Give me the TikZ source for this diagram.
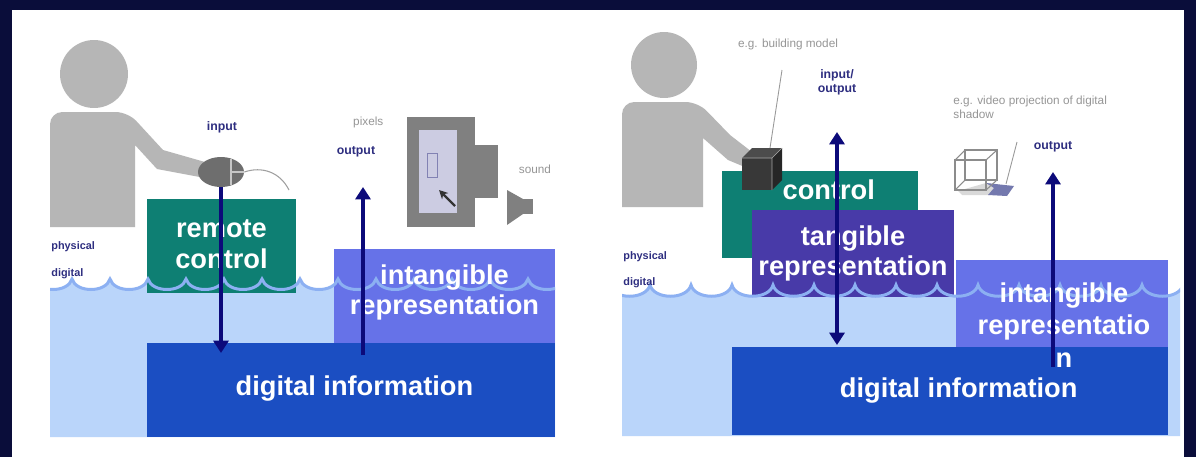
\documentclass[tikz,border=0pt]{standalone}
\usepackage{fontspec}
\setmainfont{Liberation Sans}
\usetikzlibrary{arrows.meta,positioning,shapes.geometric}

\definecolor{darknavy}{RGB}{10,13,58}
\definecolor{persongray}{RGB}{182,182,182}
\definecolor{mousegray}{RGB}{110,110,110}
\definecolor{devgray}{RGB}{128,128,128}
\definecolor{screenlight}{RGB}{204,204,226}
\definecolor{tealbox}{RGB}{14,127,115}
\definecolor{tangpurple}{RGB}{72,58,168}
\definecolor{intangblue}{RGB}{102,114,232}
\definecolor{digiblue}{RGB}{27,78,194}
\definecolor{waterblue}{RGB}{186,213,250}
\definecolor{waveblue}{RGB}{140,176,242}
\definecolor{arrownavy}{RGB}{12,10,122}
\definecolor{labelnavy}{RGB}{46,46,128}
\definecolor{notegray}{RGB}{150,150,150}

\begin{document}
\begin{tikzpicture}[
  x=0.02cm, y=-0.02cm,
  box/.style={rectangle, anchor=north west, inner sep=0pt, outer sep=0pt},
  big/.style={font=\fontsize{15.5}{17.5}\selectfont\bfseries,
    text=white, align=center, inner sep=0pt},
  tag/.style={font=\fontsize{7}{8}\selectfont\bfseries,
    text=labelnavy, align=center, inner sep=0pt},
  side/.style={font=\fontsize{6.2}{7}\selectfont\bfseries,
    text=labelnavy, anchor=west, inner sep=0pt},
  note/.style={font=\fontsize{6.7}{7.6}\selectfont,
    text=notegray, inner sep=0pt},
  flow/.style={draw=arrownavy, line width=2.3pt,
    -{Triangle[width=8.5pt,length=7pt]}},
  surf/.style={draw=waveblue, line width=1.7pt},
  pointer/.style={draw=gray!80, line width=0.5pt},
  wire/.style={draw=gray!90, line width=0.6pt}
]
  %% ── frame ─────────────────────────────────────────────────
  \fill[darknavy] (0,0) rectangle (1196,457);
  \fill[white] (12,10) rectangle (1184,457);

  %% ══ left: remote control ══════════════════════════════════
  %% water below the surface
  \begin{scope}
    \clip (50,250) rectangle (555,437);
    \fill[waterblue] (34,279)
      \foreach \i in {0,...,13} {
        .. controls ({38+38*\i},293) and ({68+38*\i},293) .. ({72+38*\i},279)}
      -- (566,437) -- (34,437) -- cycle;
  \end{scope}

  %% person with the mouse
  \fill[persongray] (94,74) circle[radius=0.68cm];
  \fill[persongray] (50,227) [rounded corners=7pt] -- (50,112) -- (128,112)
    [sharp corners] -- (163,150) -- (205,162) -- (205,178) -- (157,169)
    -- (135,145) -- (135,227) -- cycle;
  \node[ellipse, fill=mousegray, inner sep=0pt,
        minimum width=0.92cm, minimum height=0.6cm] (mouse) at (221,172) {};
  \draw[gray!45, line width=0.6pt] (231,159) -- (231,185) (231,172) -- (244,172);
  \draw[gray!75, line width=0.6pt]
    (mouse.east) .. controls (262,166) and (280,172) .. (289,190);

  %% blocks
  \node[box, fill=tealbox, minimum width=2.98cm, minimum height=1.88cm]
    (remote) at (147,199) {};
  \node[box, fill=intangblue, minimum width=4.42cm, minimum height=1.88cm]
    (intangL) at (334,249) {};
  \node[box, fill=digiblue, minimum width=8.16cm, minimum height=1.88cm]
    (digiL) at (147,343) {};

  %% surface line
  \begin{scope}
    \clip (50,250) rectangle (555,320);
    \draw[surf] (34,279)
      \foreach \i in {0,...,13} {
        .. controls ({38+38*\i},293) and ({68+38*\i},293) .. ({72+38*\i},279)};
  \end{scope}

  \node[big] (remoteTxt) at ([yshift=1pt]remote.center) {remote\\control};
  \node[big] (intangLTxt) at ([yshift=2pt]intangL.center)
    {intangible\\representation};
  \node[big] (digiLTxt) at ([xshift=2pt,yshift=1pt]digiL.center)
    {digital information};

  %% screen and speaker
  \fill[devgray] (407,117) rectangle (475,227);
  \fill[devgray] (475,145) rectangle (498,198);
  \fill[screenlight] (419,130) rectangle (457,213);
  \draw[labelnavy!60, line width=0.5pt] (427,153) rectangle (437,177);
  \draw[black!80, line width=1.3pt, -{Stealth[length=5pt,width=5pt]}]
    (455,206) -- (439,190);
  \fill[devgray] (507,190) -- (523,199) -- (523,214) -- (507,225) -- cycle;
  \fill[devgray] (523,199) rectangle (533,214);

  %% labels
  \node[side] (physL) at (51,247) {physical};
  \node[side] (digL) at (51,274) {digital};
  \node[note] (soundLbl) at (535,169) {sound};

  %% arrows
  \coordinate (inTip) at (221,353);
  \coordinate (outBaseL) at (363,355);
  \coordinate (outTipL) at (363,187);
  \draw[flow] (mouse.south) -- (inTip);
  \draw[flow] (outBaseL) -- (outTipL);
  \node[tag, above=17pt of outTipL, xshift=-4pt] (outLblL) {output};
  \node[note, above=10pt of outLblL, xshift=7pt] (pixLbl) {pixels};
  \node[tag] (inLbl) at (222,127) {input};

  %% ══ right: tangible ═══════════════════════════════════════
  \begin{scope}
    \clip (622,250) rectangle (1180,436);
    \fill[waterblue] (609,285)
      \foreach \i in {0,...,13} {
        .. controls ({613+41*\i},300) and ({646+41*\i},300) .. ({650+41*\i},285)}
      -- (1183,436) -- (609,436) -- cycle;
  \end{scope}

  %% person with the model
  \fill[persongray] (664,65) circle[radius=0.66cm];
  \fill[persongray] (622,207) [rounded corners=7pt] -- (622,102) -- (698,102)
    [sharp corners] -- (730,135) -- (752,152) -- (752,170) -- (728,160)
    -- (703,138) -- (703,207) -- cycle;

  \node[box, fill=tealbox, minimum width=3.92cm, minimum height=1.74cm]
    (ctrl) at (722,171) {};

  %% building model
  \fill[black!78] (742,158) rectangle (772,190);
  \fill[black!70] (742,158) -- (752,148) -- (782,148) -- (772,158) -- cycle;
  \fill[black!85] (772,158) -- (782,148) -- (782,180) -- (772,190) -- cycle;
  \draw[gray!70, line width=0.3pt] (742,158) -- (772,158) -- (782,148)
    (772,158) -- (772,190);

  \node[box, fill=tangpurple, minimum width=4.04cm, minimum height=1.74cm]
    (tang) at (752,210) {};
  \node[box, fill=intangblue, minimum width=4.24cm, minimum height=1.74cm]
    (intangR) at (956,260) {};
  \node[box, fill=digiblue, minimum width=8.72cm, minimum height=1.76cm]
    (digiR) at (732,347) {};

  \begin{scope}
    \clip (622,250) rectangle (1180,320);
    \draw[surf] (609,285)
      \foreach \i in {0,...,13} {
        .. controls ({613+41*\i},300) and ({646+41*\i},300) .. ({650+41*\i},285)};
  \end{scope}

  \node[big, below=5pt of ctrl.north, xshift=5pt] (ctrlTxt) {control};
  \node[big] (tangTxt) at (tang.center) {tangible\\representation};
  \node[big, font=\fontsize{15.5}{18.5}\selectfont\bfseries]
    (intangRTxt) at (1064,325) {intangible\\representatio\\n};
  \node[big] (digiRTxt) at ([xshift=5pt]digiR.center) {digital information};

  %% projected shadow
  \fill[gray!30] (958,191) -- (986,183) -- (1000,185) -- (990,195) -- (962,195) -- cycle;
  \fill[intangblue!45!gray] (986,183) -- (1014,186) -- (1007,196) -- (988,195)
    -- (994,188) -- cycle;
  \draw[wire] (955,160) rectangle (986,190);
  \draw[wire] (965,150) rectangle (997,180);
  \draw[wire] (955,160) -- (965,150) (986,160) -- (997,150)
    (986,190) -- (997,180) (955,190) -- (965,180);

  %% notes and pointers
  \node[note] (bldgLbl) at (788,44) {e.g. building model};
  \node[note, anchor=north west, align=left] (videoLbl) at (953,96)
    {e.g. video projection of digital\\shadow};
  \coordinate (bldgEnd) at (782,70);
  \coordinate (cubeTop) at (770,148);
  \coordinate (videoEnd) at (1017,142);
  \coordinate (shadowTip) at (1006,184);
  \draw[pointer] (bldgEnd) -- (cubeTop);
  \draw[pointer] (videoEnd) -- (shadowTip);

  \node[side] (physR) at (623,257) {physical};
  \node[side] (digR) at (623,283) {digital};

  %% arrows
  \coordinate (ioTop) at (837,132);
  \coordinate (ioBot) at (837,345);
  \coordinate (outBaseR) at (1053,367);
  \coordinate (outTipR) at (1053,172);
  \draw[flow, {Triangle[width=8.5pt,length=7pt]}-{Triangle[width=8.5pt,length=7pt]}]
    (ioBot) -- (ioTop);
  \draw[flow] (outBaseR) -- (outTipR);
  \node[tag, above=21pt of ioTop] (ioLbl) {input/\\output};
  \node[tag, above=11pt of outTipR] (outLblR) {output};

\end{tikzpicture}
\end{document}
